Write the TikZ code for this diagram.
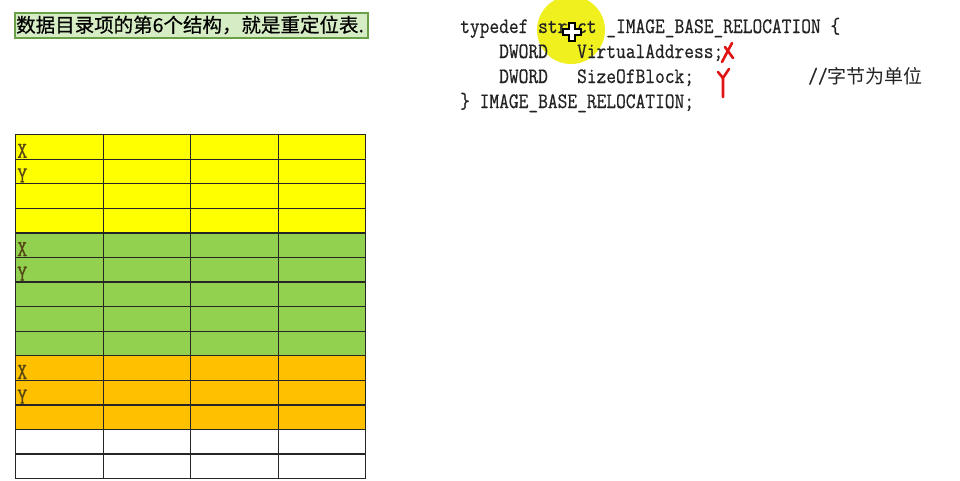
\documentclass[tikz,border=0pt]{standalone}
\usepackage{fontspec}
\setmainfont{Liberation Serif}
\newfontfamily\cjk{Noto Sans CJK SC}
\newfontfamily\cjkbold[FakeBold=0.5]{Noto Sans CJK SC}
\newfontfamily\codefont[FakeStretch=0.86,FakeBold=0.6]{Latin Modern Mono}
\definecolor{tyellow}{RGB}{255,255,0}
\definecolor{tgreen}{RGB}{146,208,80}
\definecolor{torange}{RGB}{255,192,0}
\definecolor{titlefill}{RGB}{214,236,196}
\definecolor{titleline}{RGB}{106,160,72}
\definecolor{hilite}{RGB}{240,240,30}
\definecolor{labelcol}{RGB}{85,70,20}
\definecolor{codecol}{RGB}{35,35,35}
\definecolor{penred}{RGB}{225,20,20}
\tikzset{
  cellbox/.style={draw=black!85, line width=1.3pt, minimum width=87.5pt, minimum height=24.57pt, inner sep=0pt, anchor=north west},
  codeline/.style={anchor=base west, inner sep=0pt, text=codecol, font=\codefont\fontsize{22}{24}\selectfont},
  rowlabel/.style={anchor=base west, inner sep=0pt, text=labelcol, font=\codefont\fontsize{23}{25}\selectfont},
  pen/.style={draw=penred, line width=2.6pt, line cap=round, line join=round},
}
\begin{document}
\begin{tikzpicture}[x=1pt,y=-1pt]
\useasboundingbox (0,0) rectangle (960,480);
\fill[white] (0,0) rectangle (960,480);
% title
\node[draw=titleline, line width=2pt, fill=titlefill, minimum width=353pt, minimum height=25pt, inner sep=0pt, anchor=north west] (title) at (14,12) {};
\node[anchor=west, inner sep=0pt, font=\cjkbold\fontsize{19.5}{22}\selectfont] (titletext) at (16,25) {数据目录项的第6个结构，就是重定位表.};
% table
\foreach \r/\col in {0/tyellow,1/tyellow,2/tyellow,3/tyellow,4/tgreen,5/tgreen,6/tgreen,7/tgreen,8/tgreen,9/torange,10/torange,11/torange,12/white,13/white}{
  \foreach \c in {0,1,2,3}{
    \node[cellbox, fill=\col] (c-\r-\c) at ({15+\c*87.5},{134+\r*24.57}) {};
  }
}
\foreach \r/\t in {0/X,1/Y,4/X,5/Y,9/X,10/Y}{
  \node[rowlabel] (lab-\r) at ([xshift=2pt,yshift=2pt]c-\r-0.south west) {\t};
}
% highlight
\fill[hilite] (571,30) circle (34);
% code
\node[codeline] (l1) at (460,33) {typedef struct \_IMAGE\_BASE\_RELOCATION \{};
\node[codeline] (l2) at (460,58) {\ \ \ \ DWORD\ \ \ VirtualAddress;};
\node[codeline] (l3) at (460,83) {\ \ \ \ DWORD\ \ \ SizeOfBlock;};
\node[codeline] (l4) at (460,108) {\} IMAGE\_BASE\_RELOCATION;};
\node[anchor=base west, inner sep=0pt, text=codecol] (cm) at (808,83) {{\codefont\fontsize{22}{24}\selectfont //}{\cjk\fontsize{19}{22}\selectfont 字节为单位}};
% cursor
\filldraw[fill=white, draw=black, line width=1.2pt]
  (569,23) -- (575,23) -- (575,29) -- (581,29) -- (581,35) -- (575,35) -- (575,41) -- (569,41) -- (569,35) -- (563,35) -- (563,29) -- (569,29) -- cycle;
% red handwritten marks
\draw[pen] (732,43) -- (722,62);
\draw[pen] (725,47) -- (733,58);
\draw[pen] (718,72) -- (723,78);
\draw[pen] (729,69) -- (723,78) -- (723,97);
\end{tikzpicture}
\end{document}
